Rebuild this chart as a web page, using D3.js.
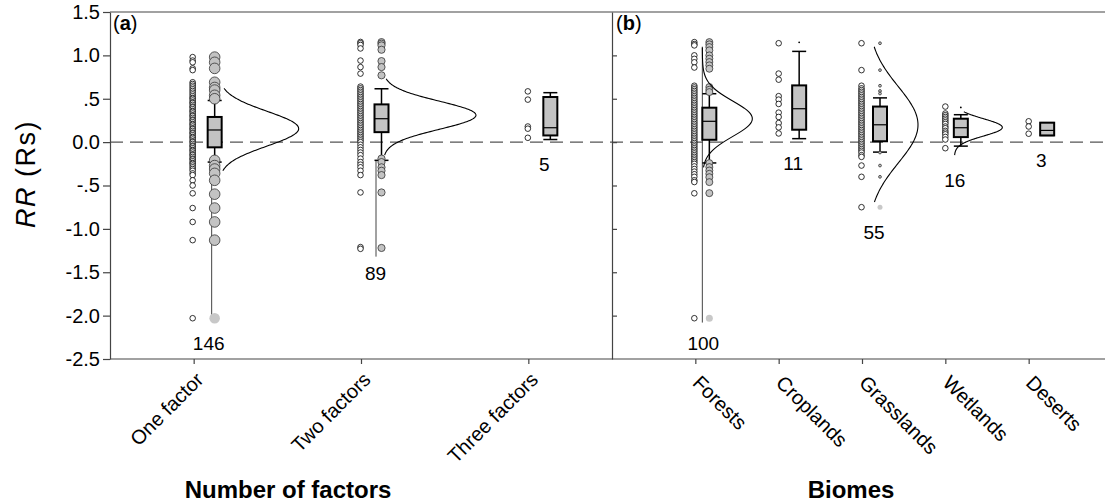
<!DOCTYPE html>
<html><head><meta charset="utf-8">
<script src="https://cdn.jsdelivr.net/npm/d3@7"></script>
<style>
body{margin:0;background:#fff}
svg{display:block}
text{font-family:"Liberation Sans", Arial, Helvetica, sans-serif;fill:#000}
</style>
</head><body>
<svg id="chart" width="1105" height="502"></svg>
<script>
// ---------------- DATA ----------------
const yTickValues = [1.5, 1.0, 0.5, 0.0, -0.5, -1.0, -1.5, -2.0, -2.5];
const yTickLabels = ["1.5", "1.0", ".5", "0.0", "-.5", "-1.0", "-1.5", "-2.0", "-2.5"];

// Panel (a): number of factors
const factorCategories = ["One factor", "Two factors", "Three factors"];
const factorCounts = [146, 89, 5];
const factorQ1 = [-0.06, 0.115, 0.077];
const factorMedian = [0.14, 0.27, 0.166];
const factorQ3 = [0.29, 0.435, 0.52];
const factorWhiskerLow = [-0.23, -0.21, 0.03];
const factorWhiskerHigh = [0.48, 0.615, 0.57];
const factorPoints = [
  [0.98, 0.94, 0.92, 0.85, 0.83, 0.69, 0.67, 0.65, 0.63, 0.61, 0.59, 0.57, 0.55, 0.53, 0.51, 0.50, 0.48, 0.46,
   0.45, 0.43, 0.41, 0.40, 0.38, 0.36, 0.35, 0.33, 0.31, 0.30, 0.28, 0.26, 0.25, 0.23, 0.21, 0.20, 0.18, 0.16,
   0.15, 0.13, 0.11, 0.10, 0.08, 0.06, 0.05, 0.03, 0.01, 0.00, -0.02, -0.04, -0.05, -0.07, -0.09, -0.10, -0.12,
   -0.14, -0.15, -0.17, -0.19, -0.20, -0.22, -0.24, -0.25, -0.27, -0.29, -0.31, -0.33, -0.36, -0.38, -0.44,
   -0.50, -0.59, -0.76, -0.92, -1.13, -2.03],
  [1.155, 1.14, 1.12, 1.08, 0.94, 0.865, 0.79, 0.64, 0.62, 0.60, 0.58, 0.56, 0.54, 0.52, 0.50, 0.48, 0.46, 0.44,
   0.42, 0.40, 0.38, 0.36, 0.34, 0.32, 0.30, 0.28, 0.26, 0.24, 0.22, 0.20, 0.18, 0.16, 0.14, 0.12, 0.10, 0.08,
   0.06, 0.04, 0.02, 0.00, -0.03, -0.06, -0.09, -0.12, -0.15, -0.19, -0.23, -0.26, -0.29, -0.33, -0.38, -0.58,
   -1.21, -1.23],
  [0.585, 0.49, 0.18, 0.155, 0.05]
];
const factorOutliers = [
  [0.98, 0.92, 0.85, 0.69, 0.63, 0.60, 0.54, 0.50, -0.21, -0.27, -0.31, -0.36, -0.44, -0.60, -0.76, -0.92, -1.13],
  [1.153, 1.135, 1.115, 1.065, 0.934, 0.865, 0.77, -0.19, -0.23, -0.29, -0.33, -0.38, -0.58, -1.22],
  []
];
const factorExtremes = [[-2.03], [], []];
const factorCurveMean = [0.155, 0.31, null];
const factorCurveSd = [0.2, 0.162, null];
const factorCurveLow = [-0.33, -0.15, null];
const factorCurveHigh = [0.62, 0.73, null];
const factorTailLow = [-2.05, -1.32, null];
const factorTailHigh = [-0.23, -0.21, null];

// Panel (b): biomes
const biomeCategories = ["Forests", "Croplands", "Grasslands", "Wetlands", "Deserts"];
const biomeCounts = [100, 11, 55, 16, 3];
const biomeQ1 = [0.027, 0.143, 0.01, 0.058, 0.077];
const biomeMedian = [0.24, 0.385, 0.20, 0.166, 0.135];
const biomeQ3 = [0.397, 0.654, 0.41, 0.27, 0.224];
const biomeWhiskerLow = [-0.24, 0.04, -0.115, -0.046, 0.077];
const biomeWhiskerHigh = [0.558, 1.046, 0.51, 0.316, 0.224];
const biomePoints = [
  [1.153, 1.13, 1.115, 1.0, 0.96, 0.92, 0.86, 0.65, 0.63, 0.61, 0.59, 0.57, 0.55, 0.53, 0.51, 0.49, 0.47, 0.45,
   0.43, 0.41, 0.39, 0.37, 0.35, 0.33, 0.31, 0.29, 0.27, 0.25, 0.23, 0.21, 0.19, 0.17, 0.15, 0.13, 0.11, 0.09,
   0.07, 0.05, 0.03, 0.01, -0.01, -0.03, -0.05, -0.07, -0.09, -0.11, -0.13, -0.15, -0.17, -0.19, -0.21, -0.23,
   -0.25, -0.28, -0.31, -0.34, -0.37, -0.40, -0.44, -0.46, -0.59, -2.03],
  [1.14, 0.79, 0.72, 0.53, 0.49, 0.44, 0.34, 0.29, 0.22, 0.17, 0.10],
  [1.14, 0.83, 0.65, 0.62, 0.60, 0.58, 0.56, 0.54, 0.52, 0.50, 0.48, 0.46, 0.44, 0.42, 0.40, 0.38, 0.36, 0.34,
   0.32, 0.30, 0.28, 0.26, 0.24, 0.22, 0.20, 0.18, 0.16, 0.14, 0.12, 0.10, 0.08, 0.06, 0.04, 0.02, 0.00, -0.02,
   -0.04, -0.06, -0.08, -0.10, -0.12, -0.15, -0.17, -0.27, -0.40, -0.75],
  [0.41, 0.33, 0.31, 0.29, 0.27, 0.25, 0.23, 0.21, 0.18, 0.16, 0.13, 0.11, 0.09, 0.06, 0.03, -0.07],
  [0.24, 0.18, 0.097]
];
const biomeOutliers = [
  [1.153, 1.127, 1.096, 1.058, 1.0, 0.962, 0.923, 0.885, 0.846, 0.635, 0.604, 0.577, -0.242, -0.288, -0.327,
   -0.365, -0.404, -0.461, -0.588],
  [1.15],
  [1.14, 0.83, 0.65, 0.59, 0.56, -0.12, -0.27, -0.40],
  [0.40],
  []
];
const biomeExtremes = [[-2.03], [], [-0.75], [], []];
const biomeCurveMean = [0.27, null, 0.20, 0.17, null];
const biomeCurveSd = [0.205, null, 0.44, 0.10, null];
const biomeCurveLow = [-0.29, null, -0.69, -0.15, null];
const biomeCurveHigh = [1.09, null, 1.10, 0.35, null];
const biomeTailLow = [-2.08, null, null, null, null];
const biomeTailHigh = [1.10, null, null, null, null];

// ---------------- LAYOUT / STYLE ----------------
const W = 1105, H = 502;
const plotTop = 12, plotBottom = 359;
const xLeft = 110, xMid = 612, xRight = 1112;
const svg = d3.select("#chart");

const y = d3.scaleLinear().domain([-2.5, 1.5]).range([plotBottom, plotTop]);
const xA = d3.scalePoint().domain(factorCategories).range([xLeft, xMid]).padding(0.5);
const xB = d3.scalePoint().domain(biomeCategories).range([xMid, xRight]).padding(1);

const styleA = {
  pointOffset: [-1, -0.5, -0.5], boxOffset: [21, 20.5, 22], boxW: 14,
  curveBase: [25, 22, 0], curveWidth: [80, 93, 0], tailOffset: [18, 15, 0],
  outR: [5.3, 3.6, 0]
};
const styleB = {
  pointOffset: [-1, 0, -0.5, 0, 0], boxOffset: [14, 20.5, 18, 15.5, 18.5], boxW: 14,
  curveBase: [7, 0, 6, 9, 0], curveWidth: [50, 0, 50, 48, 0], tailOffset: [7, 0, 0, 0, 0],
  outR: [3.5, 0.9, 1.4, 0.9, 0]
};
const GRAY = "#c3c3c3";

svg.append("line")
  .attr("x1", xLeft).attr("x2", W).attr("y1", y(0)).attr("y2", y(0))
  .attr("stroke", "#555").attr("stroke-width", 1.4).attr("stroke-dasharray", "13,7");

function drawPanel(x, cats, d, st) {
  const g = svg.append("g");
  cats.forEach((c, i) => {
    const cx = x(c);
    const bx = cx + st.boxOffset[i];
    if (d.tailLow[i] !== null) {
      g.append("line").attr("x1", cx + st.tailOffset[i]).attr("x2", cx + st.tailOffset[i])
        .attr("y1", y(d.tailHigh[i])).attr("y2", y(d.tailLow[i]))
        .attr("stroke", "#444").attr("stroke-width", 1);
    }
    g.selectAll(null).data(d.points[i]).enter().append("circle")
      .attr("cx", cx + st.pointOffset[i]).attr("cy", v => y(v)).attr("r", 2.8)
      .attr("fill", "#fff").attr("stroke", "#000").attr("stroke-width", 0.8);
    const wl = y(d.wLow[i]), wh = y(d.wHigh[i]);
    g.append("line").attr("x1", bx).attr("x2", bx).attr("y1", wh).attr("y2", y(d.q3[i]))
      .attr("stroke", "#000").attr("stroke-width", 1.5);
    g.append("line").attr("x1", bx).attr("x2", bx).attr("y1", y(d.q1[i])).attr("y2", wl)
      .attr("stroke", "#000").attr("stroke-width", 1.5);
    [wl, wh].forEach(yy => g.append("line")
      .attr("x1", bx - st.boxW / 2).attr("x2", bx + st.boxW / 2).attr("y1", yy).attr("y2", yy)
      .attr("stroke", "#000").attr("stroke-width", 1.5));
    g.selectAll(null).data(d.outliers[i]).enter().append("circle")
      .attr("cx", bx).attr("cy", v => y(v)).attr("r", st.outR[i])
      .attr("fill", st.outR[i] < 1.2 ? "#000" : GRAY)
      .attr("stroke", "#333").attr("stroke-width", st.outR[i] < 1.2 ? 0 : 0.8);
    g.selectAll(null).data(d.extremes[i]).enter().append("circle")
      .attr("cx", bx).attr("cy", v => y(v)).attr("r", Math.max(st.outR[i], 2.5))
      .attr("fill", "#c8c8c8").attr("stroke", "none");
    g.append("rect").attr("x", bx - st.boxW / 2).attr("width", st.boxW)
      .attr("y", y(d.q3[i])).attr("height", y(d.q1[i]) - y(d.q3[i]))
      .attr("fill", GRAY).attr("stroke", "#000").attr("stroke-width", 2);
    g.append("line").attr("x1", bx - st.boxW / 2).attr("x2", bx + st.boxW / 2)
      .attr("y1", y(d.median[i])).attr("y2", y(d.median[i]))
      .attr("stroke", "#000").attr("stroke-width", 1.2);
    if (d.cMean[i] !== null) {
      const m = d.cMean[i], s = d.cSd[i];
      const vals = d3.range(d.cLow[i], d.cHigh[i] + 1e-9, (d.cHigh[i] - d.cLow[i]) / 120);
      const line = d3.line()
        .x(v => cx + st.curveBase[i] + st.curveWidth[i] * Math.exp(-((v - m) ** 2) / (2 * s * s)))
        .y(v => y(v)).curve(d3.curveBasis);
      g.append("path").attr("d", line(vals)).attr("fill", "none")
        .attr("stroke", "#000").attr("stroke-width", 1.1);
    }
    const lows = d.points[i].concat(d.cLow[i] !== null ? [d.cLow[i]] : [], [d.wLow[i]]);
    const minV = d3.min(lows);
    g.append("text").attr("x", bx - 6).attr("y", y(minV) + 25).attr("dy", "0.35em")
      .attr("text-anchor", "middle").attr("font-size", 19).text(d.counts[i]);
  });
}

drawPanel(xA, factorCategories, {
  points: factorPoints, outliers: factorOutliers, extremes: factorExtremes,
  q1: factorQ1, median: factorMedian, q3: factorQ3, wLow: factorWhiskerLow, wHigh: factorWhiskerHigh,
  cMean: factorCurveMean, cSd: factorCurveSd, cLow: factorCurveLow, cHigh: factorCurveHigh,
  tailLow: factorTailLow, tailHigh: factorTailHigh, counts: factorCounts
}, styleA);
drawPanel(xB, biomeCategories, {
  points: biomePoints, outliers: biomeOutliers, extremes: biomeExtremes,
  q1: biomeQ1, median: biomeMedian, q3: biomeQ3, wLow: biomeWhiskerLow, wHigh: biomeWhiskerHigh,
  cMean: biomeCurveMean, cSd: biomeCurveSd, cLow: biomeCurveLow, cHigh: biomeCurveHigh,
  tailLow: biomeTailLow, tailHigh: biomeTailHigh, counts: biomeCounts
}, styleB);

// ---------------- AXES ----------------
const axisColor = "#444";
svg.append("line").attr("x1", xLeft).attr("x2", W).attr("y1", plotTop).attr("y2", plotTop)
  .attr("stroke", axisColor).attr("stroke-width", 1.2);
const yAxis = svg.append("g").attr("transform", `translate(${xLeft},0)`)
  .call(d3.axisLeft(y).tickValues(yTickValues).tickSize(7).tickSizeOuter(0)
    .tickFormat((v, i) => yTickLabels[i]));
yAxis.selectAll("text").attr("font-size", 20).attr("x", -10)
  .style("font-family", '"Liberation Sans", Arial, sans-serif');
yAxis.selectAll("line, path").attr("stroke", axisColor).attr("stroke-width", 1.2);
const midAxis = svg.append("g").attr("transform", `translate(${xMid},0)`)
  .call(d3.axisRight(y).tickValues(yTickValues.slice(1, 8)).tickSize(5).tickSizeOuter(0).tickFormat(""));
midAxis.selectAll("line, path").attr("stroke", "#222").attr("stroke-width", 1.2);
const bA = svg.append("g").attr("transform", `translate(0,${plotBottom})`)
  .call(d3.axisBottom(xA).tickSize(5).tickSizeOuter(0).tickFormat(""));
bA.select("path").attr("d", `M${xLeft},0H${xMid}`);
const bB = svg.append("g").attr("transform", `translate(0,${plotBottom})`)
  .call(d3.axisBottom(xB).tickSize(5).tickSizeOuter(0).tickFormat(""));
bB.select("path").attr("d", `M${xMid},0H${W}`);
svg.selectAll(".tick line, .domain").attr("stroke", axisColor).attr("stroke-width", 1.2);

factorCategories.forEach(c => {
  svg.append("text").attr("transform", `translate(${xA(c) + 6},${plotBottom + 17}) rotate(-45)`)
    .attr("text-anchor", "end").attr("dy", "0.35em").attr("font-size", 20).text(c);
});
biomeCategories.forEach(c => {
  svg.append("text").attr("transform", `translate(${xB(c) + 1},${plotBottom + 20}) rotate(45)`)
    .attr("text-anchor", "start").attr("dy", "0.35em").attr("font-size", 20).text(c);
});

svg.append("text").attr("x", 288).attr("y", 498).attr("text-anchor", "middle")
  .attr("font-size", 24).attr("font-weight", "bold").text("Number of factors");
svg.append("text").attr("x", 851).attr("y", 498).attr("text-anchor", "middle")
  .attr("font-size", 24).attr("font-weight", "bold").text("Biomes");
const yt = svg.append("text").attr("transform", "translate(35,174) rotate(-90)")
  .attr("text-anchor", "middle").attr("font-size", 27).attr("letter-spacing", 1.5);
yt.append("tspan").attr("font-style", "italic").text("RR");
yt.append("tspan").text(" (Rs)");

[["a", xLeft + 3], ["b", xMid + 4]].forEach(([l, px]) => {
  const t = svg.append("text").attr("x", px).attr("y", 30).attr("font-size", 20);
  t.append("tspan").text("(");
  t.append("tspan").attr("font-weight", "bold").text(l);
  t.append("tspan").text(")");
});
</script>
</body></html>
